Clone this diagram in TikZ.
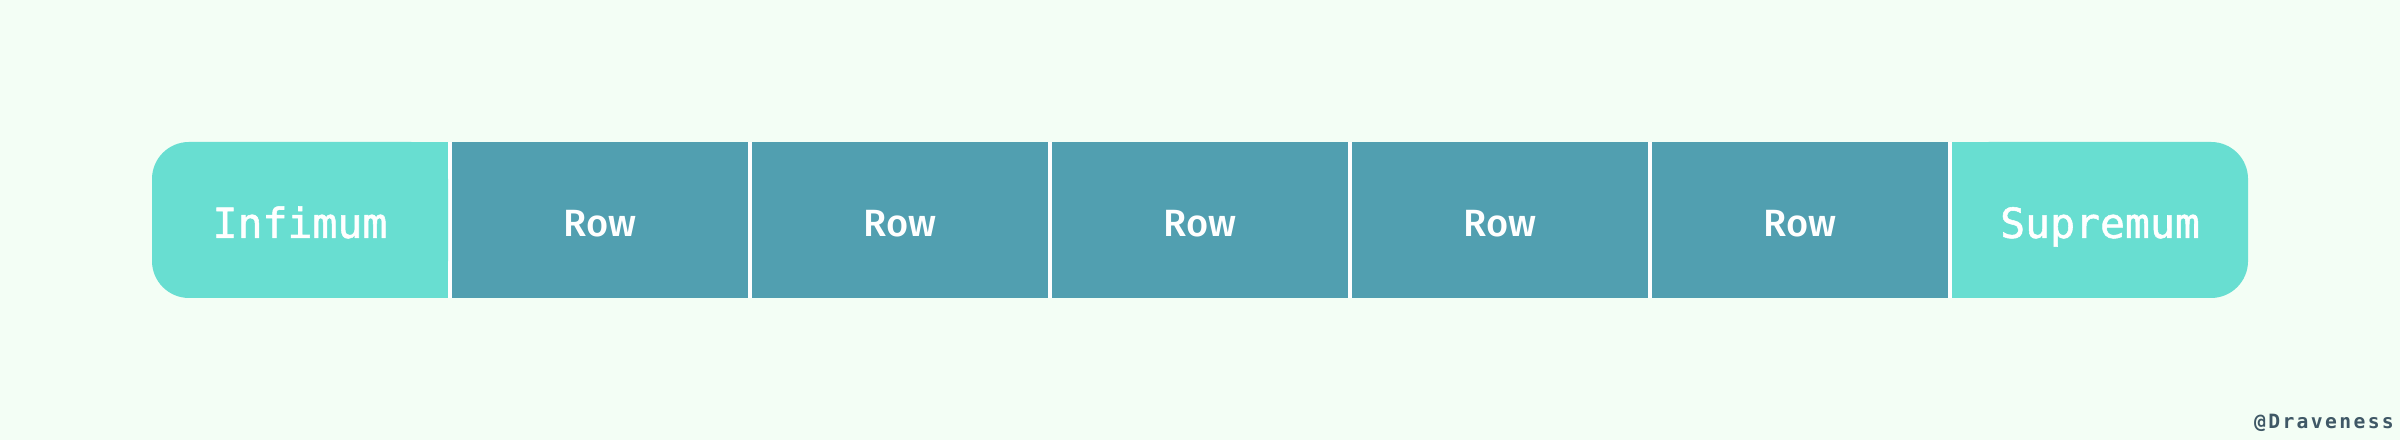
\documentclass[tikz,border=0pt]{standalone}
\usepackage{fontspec}
\setmonofont{DejaVu Sans Mono}
\newfontfamily\rowfont{Fira Sans Medium}
\newfontfamily\edgefont[FakeBold=1.3]{DejaVu Sans Mono}
\usetikzlibrary{positioning,backgrounds}

\definecolor{bgmint}{HTML}{F3FEF5}
\definecolor{edgeteal}{HTML}{68DED1}
\definecolor{rowblue}{HTML}{519FB0}
\definecolor{signgray}{HTML}{3F5866}

\tikzset{
  cell/.style={minimum width=2.96cm, minimum height=1.56cm, inner sep=0pt, outer sep=0pt,
    text=white, text depth=0pt},
  endcell/.style={cell, text height=10.2pt, font=\edgefont\fontsize{11.8}{13}\selectfont},
  rowcell/.style={cell, fill=rowblue, text height=9.2pt, font=\rowfont\fontsize{10.8}{12}\selectfont},
}

\begin{document}
\begin{tikzpicture}[node distance=0.04cm]
  \useasboundingbox (0,0) rectangle (24,4.4);

  \node (inf) at (3,2.2) [endcell] {Infimum};
  \node (r1) [rowcell, right=of inf] {Row};
  \node (r2) [rowcell, right=of r1] {Row};
  \node (r3) [rowcell, right=of r2] {Row};
  \node (r4) [rowcell, right=of r3] {Row};
  \node (r5) [rowcell, right=of r4] {Row};
  \node (sup) [endcell, right=of r5] {Supremum};

  \node (sign) at (23.945,0.11) [anchor=base east, inner sep=0pt, text=signgray,
    font=\ttfamily\bfseries\fontsize{5.6}{6}\selectfont\addfontfeature{LetterSpace=12}] {@Draveness};

  \begin{scope}[on background layer]
    \fill[bgmint] (0,0) rectangle (24,4.4);
    % white gaps between the cells
    \fill[white] (inf.south) rectangle (sup.north);
    % the two ends, rounded on the outer side only
    \fill[edgeteal, rounded corners=0.37cm] (inf.south west) rectangle (inf.north east);
    \fill[edgeteal] (inf.south) rectangle (inf.north east);
    \fill[edgeteal, rounded corners=0.37cm] (sup.south west) rectangle (sup.north east);
    \fill[edgeteal] (sup.south west) rectangle (sup.north);
  \end{scope}
\end{tikzpicture}
\end{document}
